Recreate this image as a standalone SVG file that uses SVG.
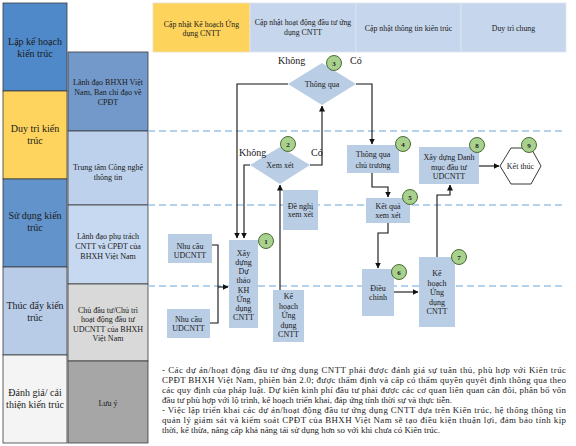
<svg xmlns="http://www.w3.org/2000/svg" width="576" height="446" viewBox="0 0 576 446">
<defs>
<marker id="ah" markerWidth="6" markerHeight="6" refX="5.5" refY="3" orient="auto" markerUnits="userSpaceOnUse">
<path d="M0,0 L6,3 L0,6 Z" fill="#111"/>
</marker>
<style>
text{font-family:"Liberation Serif","Times New Roman",serif;fill:#1a1a1a;}
.lc{font-size:10px;text-anchor:middle;}
.rc{font-size:8px;text-anchor:middle;}
.hd{font-size:7.8px;text-anchor:middle;}
.bx{font-size:8px;text-anchor:middle;}
.lab{font-size:10px;}
.num{font-size:7px;text-anchor:middle;font-weight:bold;}
.note{font-size:8.9px;}
.cell{stroke:#3a3a3a;stroke-width:0.8;}
.hcell{fill:#c6d6ec;stroke:#dfe6f0;stroke-width:0.8;}
.fb{fill:#b9cde5;}
.dia{fill:#b9cde5;}
.circ{fill:#a9d18e;stroke:#3b5e26;stroke-width:0.9;}
.dash{stroke:#9dc3e6;stroke-width:1.5;stroke-dasharray:7 4;fill:none;}
.cn{stroke:#111;stroke-width:1.1;fill:none;}
</style>
</defs>
<rect width="576" height="446" fill="#ffffff"/>

<!-- left column -->
<g id="col-lap"><rect class="cell" x="3" y="3" width="64" height="88" fill="#4f89c9"/><text class="lc" x="35" y="45">Lập kế hoạch</text><text class="lc" x="35" y="57">kiến trúc</text></g>
<g id="col-duytri"><rect class="cell" x="3" y="91" width="64" height="88" fill="#fed45e"/><text class="lc" x="35" y="132">Duy trì kiến</text><text class="lc" x="35" y="144">trúc</text></g>
<g id="col-sudung"><rect class="cell" x="3" y="179" width="64" height="88" fill="#6393cb"/><text class="lc" x="35" y="219">Sử dụng kiến</text><text class="lc" x="35" y="231">trúc</text></g>
<g id="col-thucday"><rect class="cell" x="3" y="267" width="64" height="88" fill="#b8cce8"/><text class="lc" x="35" y="309">Thúc đẩy kiến</text><text class="lc" x="35" y="321">trúc</text></g>
<g id="col-danhgia"><rect class="cell" x="3" y="355" width="64" height="88" fill="#f4f4f4"/><text class="lc" x="35" y="396">Đánh giá/ cải</text><text class="lc" x="35" y="408">thiện kiến trúc</text></g>

<!-- role column -->
<g id="role-lanhdao"><rect class="cell" x="68" y="52" width="80" height="79" fill="#7399ca"/><text class="rc" x="108" y="85">Lãnh đạo BHXH Việt</text><text class="rc" x="108" y="95">Nam, Ban chỉ đạo về</text><text class="rc" x="108" y="105">CPĐT</text></g>
<g id="role-ttcntt"><rect class="cell" x="68" y="131" width="80" height="74" fill="#bed1ec"/><text class="rc" x="108" y="170">Trung tâm Công nghệ</text><text class="rc" x="108" y="180">thông tin</text></g>
<g id="role-phutrach"><rect class="cell" x="68" y="205" width="80" height="79" fill="#c6d9f1"/><text class="rc" x="108" y="239">Lãnh đạo phụ trách</text><text class="rc" x="108" y="249">CNTT và CPĐT của</text><text class="rc" x="108" y="259">BHXH Việt Nam</text></g>
<g id="role-chudautu"><rect class="cell" x="68" y="284" width="80" height="77" fill="#d9d9d9"/><text class="rc" x="108" y="313">Chủ đầu tư/Chủ trì</text><text class="rc" x="108" y="322">hoạt động đầu tư</text><text class="rc" x="108" y="332">UDCNTT của BHXH</text><text class="rc" x="108" y="341">Việt Nam</text></g>
<g id="role-luuy"><rect class="cell" x="68" y="361" width="80" height="82" fill="#a6a6a6"/><text class="rc" x="108" y="406">Lưu ý</text></g>

<!-- header -->
<g id="hdr-1"><rect x="153" y="3" width="97" height="49" fill="#fdd35c" stroke="#e8e0c0" stroke-width="0.8"/><text class="hd" x="201.5" y="27">Cập nhật Kế hoạch Ứng</text><text class="hd" x="201.5" y="36">dụng CNTT</text></g>
<g id="hdr-2"><rect class="hcell" x="250" y="3" width="106" height="49"/><text class="hd" x="303" y="25">Cập nhật hoạt động đầu tư ứng</text><text class="hd" x="303" y="35">dụng CNTT</text></g>
<g id="hdr-3"><rect class="hcell" x="356" y="3" width="105" height="49"/><text class="hd" x="408.5" y="31">Cập nhật thông tin kiến trúc</text></g>
<g id="hdr-4"><rect class="hcell" x="461" y="3" width="105" height="49"/><text class="hd" x="513.5" y="31">Duy trì chung</text></g>

<!-- lane separators -->
<g id="lanes">
<line class="dash" x1="148" y1="131" x2="566" y2="131"/>
<line class="dash" x1="148" y1="205" x2="566" y2="205"/>
<line class="dash" x1="148" y1="286" x2="566" y2="286"/>
</g>

<!-- connectors -->
<g id="connectors">
<polyline class="cn" points="288,84 237,84 237,238" marker-end="url(#ah)"/>
<polyline class="cn" points="250,165 244,165 244,238" marker-end="url(#ah)"/>
<polyline class="cn" points="310,165 322,165 322,106" marker-end="url(#ah)"/>
<polyline class="cn" points="356,84 372,84 372,144" marker-end="url(#ah)"/>
<line class="cn" x1="280" y1="290" x2="280" y2="185" marker-end="url(#ah)"/>
<polyline class="cn" points="212,245 218,245 218,323 210,323"/>
<line class="cn" x1="218" y1="287" x2="228" y2="287" marker-end="url(#ah)"/>
<polyline class="cn" points="372,173 372,187 388,187 388,197" marker-end="url(#ah)"/>
<polyline class="cn" points="388,223 388,233 378,233 378,268" marker-end="url(#ah)"/>
<line class="cn" x1="394" y1="292" x2="418" y2="292" marker-end="url(#ah)"/>
<polyline class="cn" points="437,257 437,195 450,195 450,185" marker-end="url(#ah)"/>
<line class="cn" x1="479" y1="166" x2="499" y2="166" marker-end="url(#ah)"/>
</g>

<!-- nodes -->
<g id="n-nhucau1"><rect class="fb" x="168" y="234" width="44" height="29"/><text class="bx" x="190" y="249">Nhu cầu</text><text class="bx" x="190" y="258">UDCNTT</text></g>
<g id="n-nhucau2"><rect class="fb" x="167" y="309" width="43" height="29"/><text class="bx" x="188.5" y="322">Nhu cầu</text><text class="bx" x="188.5" y="331">UDCNTT</text></g>
<g id="n-1"><rect class="fb" x="229" y="240" width="29" height="88"/>
<text class="bx" x="243.5" y="256">Xây</text><text class="bx" x="243.5" y="265">dựng</text><text class="bx" x="243.5" y="274">Dự</text><text class="bx" x="243.5" y="283">thảo</text><text class="bx" x="243.5" y="293">KH</text><text class="bx" x="243.5" y="302">Ứng</text><text class="bx" x="243.5" y="311">dụng</text><text class="bx" x="243.5" y="320">CNTT</text>
<circle class="circ" cx="266" cy="241" r="7.5"/><text class="num" x="266" y="243.5">1</text></g>
<g id="n-kehoach"><rect class="fb" x="273" y="290" width="31" height="52"/>
<text class="bx" x="288.5" y="299">Kế</text><text class="bx" x="288.5" y="309">hoạch</text><text class="bx" x="288.5" y="318">Ứng</text><text class="bx" x="288.5" y="328">dụng</text><text class="bx" x="288.5" y="337">CNTT</text></g>
<g id="n-denghi"><rect class="fb" x="283" y="190" width="35" height="40"/><text class="bx" x="300.5" y="209">Đề nghị</text><text class="bx" x="300.5" y="217">xem xét</text></g>
<g id="n-2"><polygon class="dia" points="280,147 310,165 280,184 250,165"/><text class="bx" x="280" y="168">Xem xét</text>
<circle class="circ" cx="288" cy="144" r="7.5"/><text class="num" x="288" y="146.5">2</text></g>
<g id="n-3"><polygon class="dia" points="322,63 356,84 322,105 288,84"/><text class="bx" x="322" y="86.5">Thông qua</text>
<circle class="circ" cx="334" cy="63" r="7.5"/><text class="num" x="334" y="65.5">3</text></g>
<g id="lbl"><text class="lab" x="278" y="64">Không</text><text class="lab" x="350" y="64">Có</text><text class="lab" x="239" y="156">Không</text><text class="lab" x="311" y="156">Có</text></g>
<g id="n-4"><rect class="fb" x="347" y="145" width="52" height="28"/><text class="bx" x="373" y="157">Thông qua</text><text class="bx" x="373" y="168">chủ trương</text>
<circle class="circ" cx="403" cy="144" r="7.5"/><text class="num" x="403" y="146.5">4</text></g>
<g id="n-5"><rect class="fb" x="366" y="198" width="44" height="25"/><text class="bx" x="388" y="209">Kết quả</text><text class="bx" x="388" y="218">xem xét</text>
<circle class="circ" cx="410" cy="197" r="7.5"/><text class="num" x="410" y="199.5">5</text></g>
<g id="n-6"><rect class="fb" x="362" y="269" width="32" height="47"/><text class="bx" x="378" y="291">Điều</text><text class="bx" x="378" y="300">chỉnh</text>
<circle class="circ" cx="399" cy="272" r="7.5"/><text class="num" x="399" y="274.5">6</text></g>
<g id="n-7"><rect class="fb" x="419" y="257" width="36" height="70"/>
<text class="bx" x="437" y="276">Kế</text><text class="bx" x="437" y="286">hoạch</text><text class="bx" x="437" y="295">Ứng</text><text class="bx" x="437" y="305">dụng</text><text class="bx" x="437" y="314">CNTT</text>
<circle class="circ" cx="459" cy="257" r="7.5"/><text class="num" x="459" y="259.5">7</text></g>
<g id="n-8"><rect class="fb" x="419" y="147" width="60" height="37"/><text class="bx" x="449" y="160">Xây dựng Danh</text><text class="bx" x="449" y="170">mục đầu tư</text><text class="bx" x="449" y="179">UDCNTT</text>
<circle class="circ" cx="477" cy="145" r="7.5"/><text class="num" x="477" y="147.5">8</text></g>
<g id="n-9"><polygon points="511,148 531,148 541,166 531,184 511,184 500,166" fill="#ffffff" stroke="#222" stroke-width="0.9"/><text class="bx" x="520.5" y="169">Kết thúc</text>
<circle class="circ" cx="529" cy="145" r="7.5"/><text class="num" x="529" y="147.5">9</text></g>

<!-- notes -->
<g id="notes">
<text class="note" x="162" y="373" textLength="404" lengthAdjust="spacing">- Các dự án/hoạt động đầu tư ứng dụng CNTT phải được đánh giá sự tuân thủ, phù hợp với Kiến trúc</text>
<text class="note" x="162" y="383" textLength="404" lengthAdjust="spacing">CPĐT BHXH Việt Nam, phiên bản 2.0; được thẩm định và cấp có thẩm quyền quyết định thông qua theo</text>
<text class="note" x="162" y="393" textLength="404" lengthAdjust="spacing">các quy định của pháp luật. Dự kiến kinh phí đầu tư phải được các cơ quan liên quan cân đối, phân bổ vốn</text>
<text class="note" x="162" y="403">đầu tư phù hợp với lộ trình, kế hoạch triển khai, đáp ứng tính thời sự và thực tiễn.</text>
<text class="note" x="162" y="413" textLength="404" lengthAdjust="spacing">- Việc lập triển khai các dự án/hoạt động đầu tư ứng dụng CNTT dựa trên Kiến trúc, hệ thống thông tin</text>
<text class="note" x="162" y="423" textLength="404" lengthAdjust="spacing">quản lý giám sát và kiểm soát CPĐT của BHXH Việt Nam sẽ tạo điều kiện thuận lợi, đảm bảo tính kịp</text>
<text class="note" x="162" y="433">thời, kế thừa, nâng cấp khả năng tái sử dụng hơn so với khi chưa có Kiến trúc.</text>
</g>
</svg>
